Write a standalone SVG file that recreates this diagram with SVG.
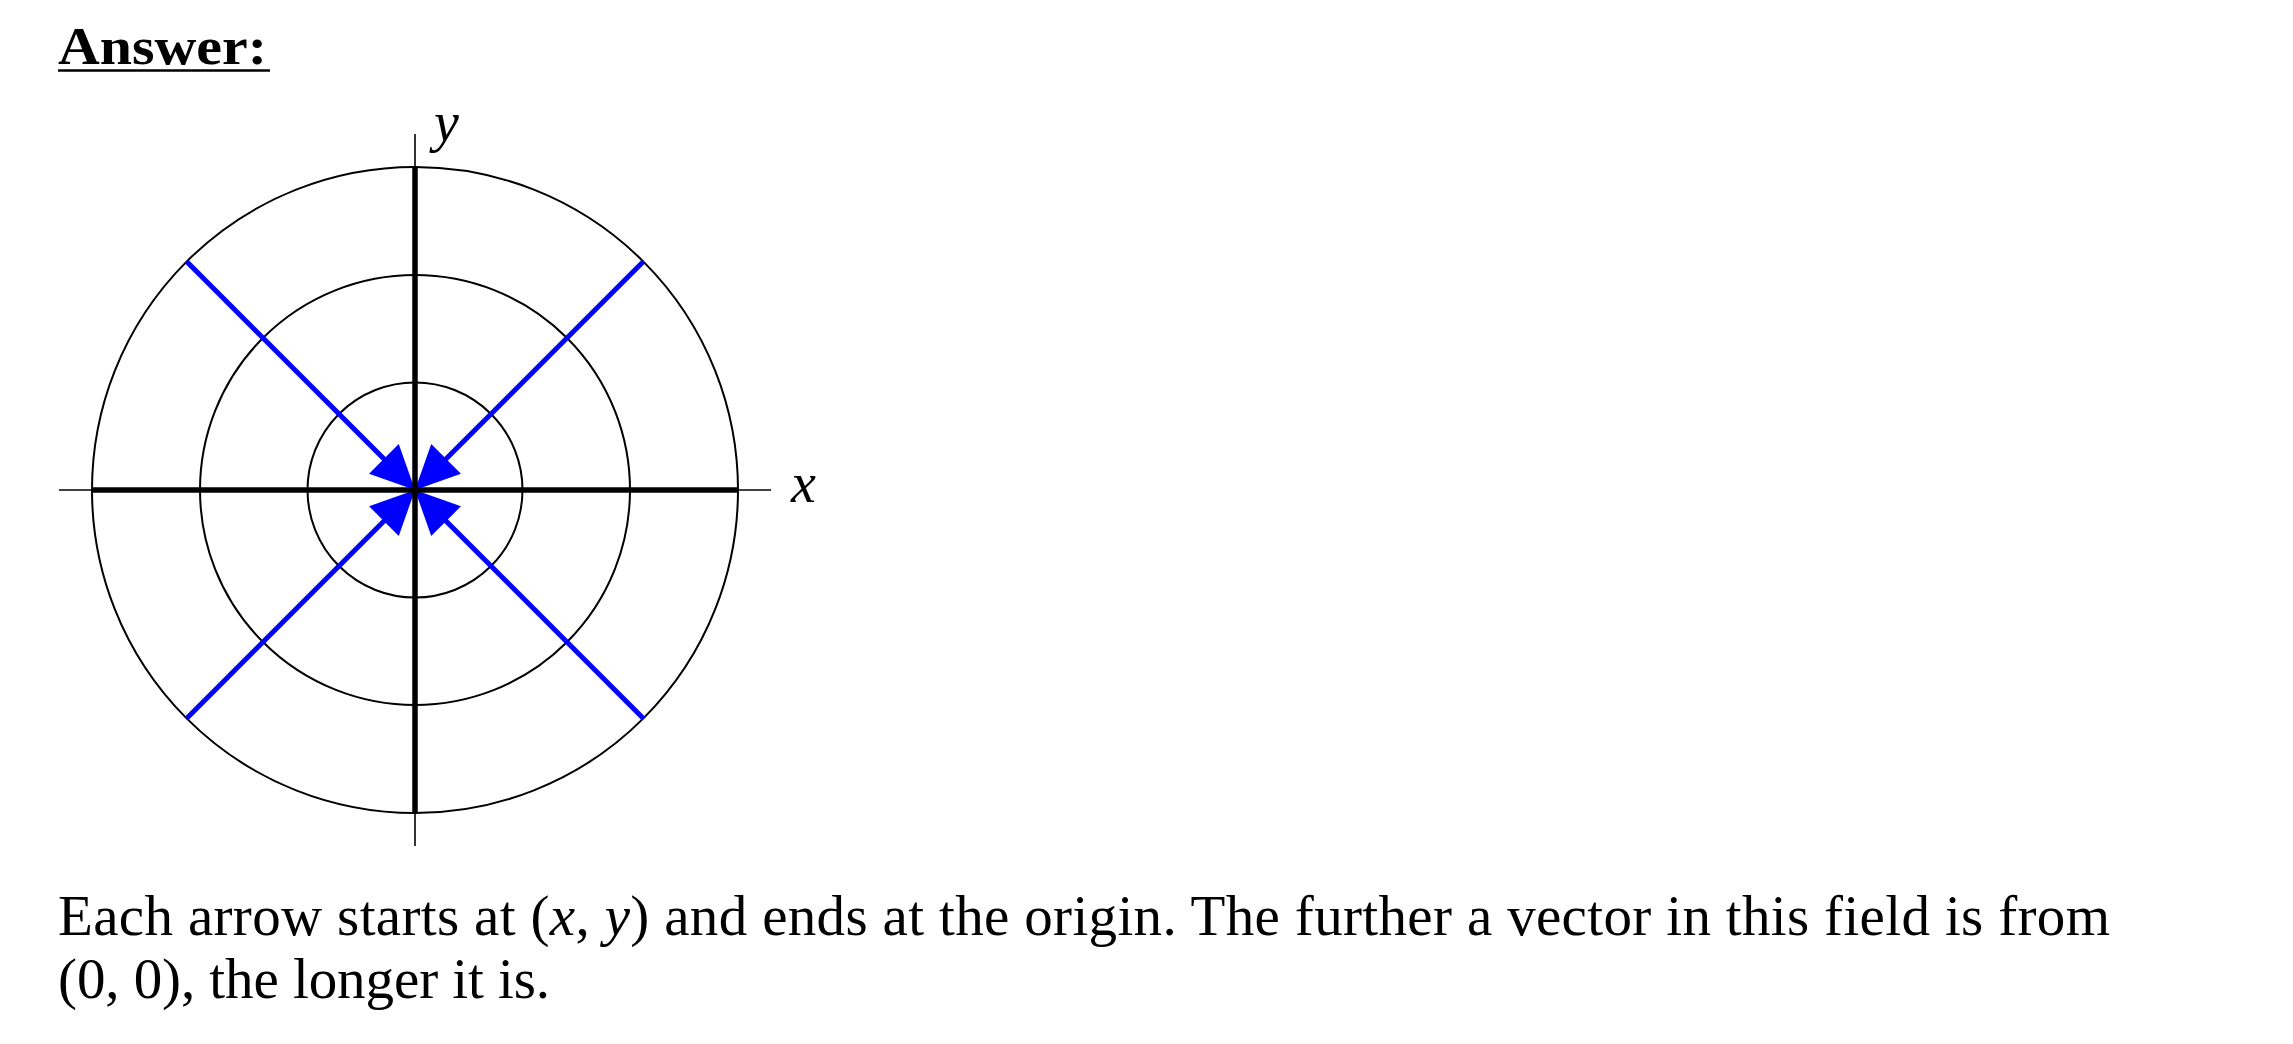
<svg xmlns="http://www.w3.org/2000/svg" width="2293" height="1044" viewBox="0 0 2293 1044">
<defs>
<style>
.circ{fill:none;stroke:#000;stroke-width:2}
.thin{stroke:#000;stroke-width:1.6}
.thick{stroke:#000;stroke-width:5.5}
.vec{stroke:#0000ff;stroke-width:5;fill:none}
.txt{font-family:"Liberation Serif","Times New Roman",serif;fill:#000}
.it{font-style:italic}
</style>
<marker id="head" markerUnits="userSpaceOnUse" markerWidth="50" markerHeight="50" viewBox="0 -25 50 50" refX="14" refY="0" orient="auto">
<path d="M0,-21 L44,0 L0,21 Z" fill="#0000ff"/>
</marker>
</defs>
<rect width="2293" height="1044" fill="#fff"/>
<g id="title">
<text class="txt" x="58" y="64" font-size="52" font-weight="bold" textLength="209" lengthAdjust="spacingAndGlyphs">Answer:</text>
<line x1="58" y1="70.5" x2="270" y2="70.5" stroke="#000" stroke-width="2.5"/>
</g>
<g id="circles">
<circle class="circ" cx="415" cy="490" r="107.5"/>
<circle class="circ" cx="415" cy="490" r="215"/>
<circle class="circ" cx="415" cy="490" r="323"/>
</g>
<g id="connectors">
<line class="vec" x1="186.6" y1="261.6" x2="393.8" y2="468.8" marker-end="url(#head)"/>
<line class="vec" x1="643.4" y1="261.6" x2="436.2" y2="468.8" marker-end="url(#head)"/>
<line class="vec" x1="186.6" y1="718.4" x2="393.8" y2="511.2" marker-end="url(#head)"/>
<line class="vec" x1="643.4" y1="718.4" x2="436.2" y2="511.2" marker-end="url(#head)"/>
</g>
<g id="axes">
<line class="thin" x1="59" y1="490" x2="771" y2="490"/>
<line class="thin" x1="415" y1="134" x2="415" y2="846"/>
<line class="thick" x1="92" y1="490" x2="738" y2="490"/>
<line class="thick" x1="415" y1="167" x2="415" y2="813"/>
</g>
<g id="labels">
<text class="txt it" x="434" y="141" font-size="56">y</text>
<text class="txt it" x="791" y="502" font-size="56">x</text>
</g>
<g id="caption">
<text class="txt" x="58" y="935" font-size="57" textLength="2052" lengthAdjust="spacing">Each arrow starts at (<tspan class="it">x</tspan>, <tspan class="it">y</tspan>) and ends at the origin.  The further a vector in this field is from</text>
<text class="txt" x="58" y="998" font-size="57" textLength="492" lengthAdjust="spacing">(0, 0), the longer it is.</text>
</g>
</svg>
